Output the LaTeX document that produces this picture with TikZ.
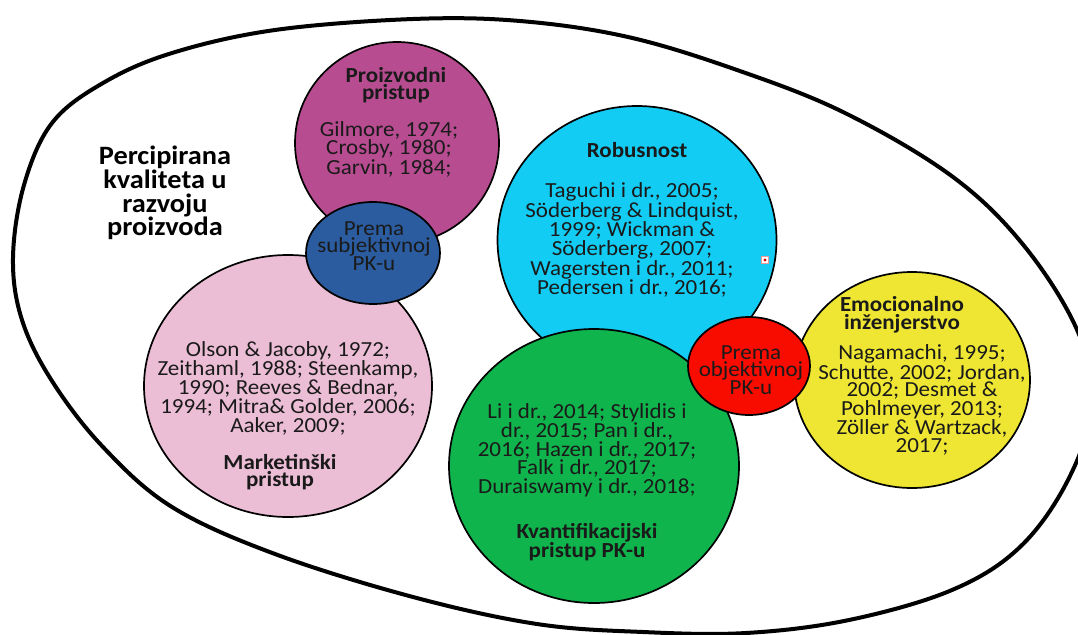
\documentclass[tikz,border=0pt]{standalone}
\usepackage{fontspec}
\setmainfont{Carlito}[FakeStretch=1.07]
\usetikzlibrary{shapes.geometric}
\definecolor{cMag}{HTML}{B84C91}
\definecolor{cPink}{HTML}{ECBED6}
\definecolor{cBlue}{HTML}{2B5CA0}
\definecolor{cCyan}{HTML}{12CCF4}
\definecolor{cGreen}{HTML}{10B44C}
\definecolor{cRed}{HTML}{F80C00}
\definecolor{cYel}{HTML}{EEE632}
\definecolor{txt}{HTML}{1A1A1A}
\definecolor{mark}{HTML}{E89A9A}
\begin{document}
\begin{tikzpicture}[x=1pt,y=-1pt,
  bub/.style={ellipse, draw=black, line width=1.7pt, inner sep=0pt, outer sep=0pt},
  cit/.style={align=center, inner sep=0pt, text=txt, font={\fontsize{21.5}{17.6}\selectfont}},
  hd/.style={align=center, inner sep=0pt, text=txt, font={\fontsize{21.5}{17.6}\selectfont\bfseries}},
  ttl/.style={align=center, inner sep=0pt, text=black, font={\fontsize{26.5}{23.7}\selectfont\bfseries}}
  ]
\useasboundingbox (0,0) rectangle (1078,634);
\fill[white] (0,0) rectangle (1078,634);
\begin{scope}
\clip (0,0) rectangle (1078,634);
\draw[line width=4pt] plot[smooth cycle, tension=0.6] coordinates {
 (13,258) (24,185) (52,123) (103,83) (172,53) (275,30) (413,19) (520,21)
 (628,37) (737,70) (845,113) (953,177) (1025,247) (1078,332) (1092,405)
 (1068,480) (1020,547) (952,590) (849,620) (746,633) (643,632) (537,624)
 (413,597) (275,554) (172,507) (103,447) (52,381) (22,320)};
\end{scope}

\node[ttl] (title) at (165,193) {Percipirana\\kvaliteta u\\razvoju\\proizvoda};

\node[bub, fill=cMag, minimum width=204pt, minimum height=202pt] (mag) at (397,143) {};
\node[bub, fill=cPink, minimum width=288pt, minimum height=262pt] (pink) at (288,386) {};
\node[bub, fill=cBlue, minimum width=134pt, minimum height=102pt] (blue) at (373,253) {};
\node[bub, fill=cCyan, minimum width=279pt, minimum height=268pt] (cyan) at (637,240) {};
\node[bub, fill=cGreen, minimum width=290pt, minimum height=274pt] (green) at (594,466) {};
\node[bub, fill=cYel, minimum width=236pt, minimum height=216pt] (yel) at (912,380) {};
\node[bub, fill=cRed, minimum width=122pt, minimum height=98pt] (red) at (749,366) {};

\node[hd] (magH) at (396,85) {Proizvodni\\pristup};
\node[cit] (magC) at (389,149) {Gilmore, 1974;\\Crosby, 1980;\\Garvin, 1984;};

\node[cit] (blueT) at (374,246) {Prema\\subjektivnoj\\PK-u};

\node[cit] (pinkC) at (288,388) {Olson \& Jacoby, 1972;\\Zeithaml, 1988; Steenkamp,\\1990; Reeves \& Bednar,\\1994; Mitra\& Golder, 2006;\\Aaker, 2009;};
\node[hd] (pinkH) at (280,472) {Marketinški\\pristup};

\node[hd] (cyanH) at (637,150) {Robusnost};
\node[cit] (cyanC) at (632,240) {Taguchi i dr., 2005;\\Söderberg \& Lindquist,\\1999; Wickman \&\\Söderberg, 2007;\\Wagersten i dr., 2011;\\Pedersen i dr., 2016;};

\node[cit] (greenC) at (587,450) {Li i dr., 2014; Stylidis i\\dr., 2015; Pan i dr.,\\2016; Hazen i dr., 2017;\\Falk i dr., 2017;\\Duraiswamy i dr., 2018;};
\node[hd] (greenH) at (587,542) {Kvantifikacijski\\pristup PK-u};

\node[cit] (redT) at (751,370) {Prema\\objektivnoj\\PK-u};

\node[hd] (yelH) at (902,315) {Emocionalno\\inženjerstvo};
\node[cit] (yelC) at (922,400) {Nagamachi, 1995;\\Schutte, 2002; Jordan,\\2002; Desmet \&\\Pohlmeyer, 2013;\\Zöller \& Wartzack,\\2017;};

\node[draw=mark, fill=white, line width=1pt, minimum size=7pt, inner sep=0pt] (handle) at (765,260) {};
\fill[red!85!black] (handle.center) circle (1.6pt);
\end{tikzpicture}
\end{document}
